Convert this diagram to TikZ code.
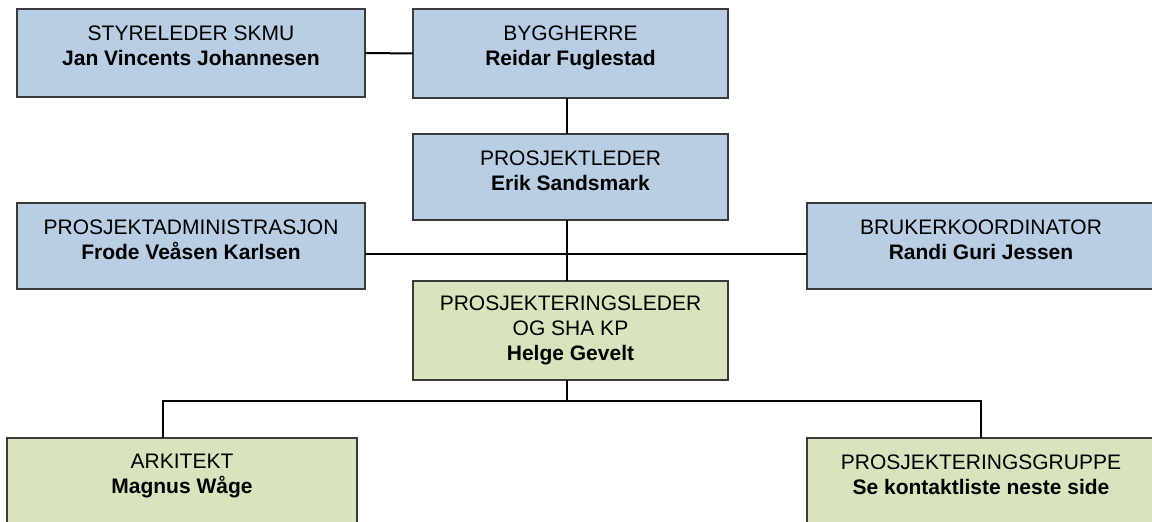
\documentclass[tikz,border=0pt]{standalone}
\usepackage{fontspec}
\setsansfont{Liberation Sans}
\usetikzlibrary{positioning, calc}
\definecolor{edge}{HTML}{3A3A3A}
\definecolor{pale}{HTML}{B9CDE5}
\definecolor{sage}{HTML}{D7E4BD}

\begin{document}
\begin{tikzpicture}[
  x=0.5pt, y=-0.5pt,
  font=\sffamily,
  box/.style={draw=edge, fill=#1, line width=0.7pt, anchor=north west,
              inner sep=0pt, outer sep=0pt},
  txt/.style={font=\sffamily\fontsize{10.5}{12.5}\selectfont, text=black,
              align=center, inner sep=0pt},
  link/.style={black, line width=1pt},
]

\clip (0, 0) rectangle (1152, 522);

% ─── top row: board chair + client ──────────────────────────────────────────
\node[box=pale, minimum width=174pt, minimum height=44pt] (styr) at (17, 9) {};
\node[txt, below=8pt of styr.north] (styr-t)
      {STYRELEDER SKMU\\\textbf{Jan Vincents Johannesen}};

\node[box=pale, minimum width=157.5pt, minimum height=44.5pt] (bygg) at (413, 9) {};
\node[txt, below=8pt of bygg.north] (bygg-t)
      {BYGGHERRE\\\textbf{Reidar Fuglestad}};

% ─── project lead ───────────────────────────────────────────────────────────
\node[box=pale, minimum width=157.5pt, minimum height=43pt] (pl) at (413, 134) {};
\node[txt, below=8pt of pl.north] (pl-t)
      {PROSJEKTLEDER\\\textbf{Erik Sandsmark}};

% ─── staff boxes either side ────────────────────────────────────────────────
\node[box=pale, minimum width=174pt, minimum height=43pt] (adm) at (17, 203) {};
\node[txt, below=8pt of adm.north] (adm-t)
      {PROSJEKTADMINISTRASJON\\\textbf{Frode Veåsen Karlsen}};

\node[box=pale, minimum width=174pt, minimum height=43pt] (bruk) at (807, 203) {};
\node[txt, below=8pt of bruk.north] (bruk-t)
      {BRUKERKOORDINATOR\\\textbf{Randi Guri Jessen}};

% ─── design lead (green) ────────────────────────────────────────────────────
\node[box=sage, minimum width=157.5pt, minimum height=49.5pt] (pll) at (413, 281) {};
\node[txt, below=7pt of pll.north] (pll-t)
      {PROSJEKTERINGSLEDER\\OG SHA KP\\\textbf{Helge Gevelt}};

% ─── bottom row (cut off by the page edge) ─────────────────────────────────
\node[box=sage, minimum width=175pt, minimum height=45pt] (ark) at (7, 438) {};
\node[txt, below=8pt of ark.north] (ark-t)
      {ARKITEKT\\\textbf{Magnus Wåge}};

\node[box=sage, minimum width=174pt, minimum height=45pt] (grp) at (807, 438) {};
\node[txt, below=8pt of grp.north] (grp-t)
      {PROSJEKTERINGSGRUPPE\\\textbf{Se kontaktliste neste side}};

% ─── connectors ─────────────────────────────────────────────────────────────
\coordinate (hub) at (567, 254);
\coordinate (split) at (567, 401);

\draw[link] (styr.east) -- (bygg.west);
\draw[link] (bygg.south -| hub) -- (pl.north -| hub);
\draw[link] (pl.south -| hub) -- (pll.north -| hub);
\draw[link] (adm.east |- hub) -- (bruk.west |- hub);
\draw[link] (pll.south -| split) -- (split);
\draw[link] ([xshift=-9.5pt]ark.north) |- (split) -| (grp.north);

\end{tikzpicture}
\end{document}
